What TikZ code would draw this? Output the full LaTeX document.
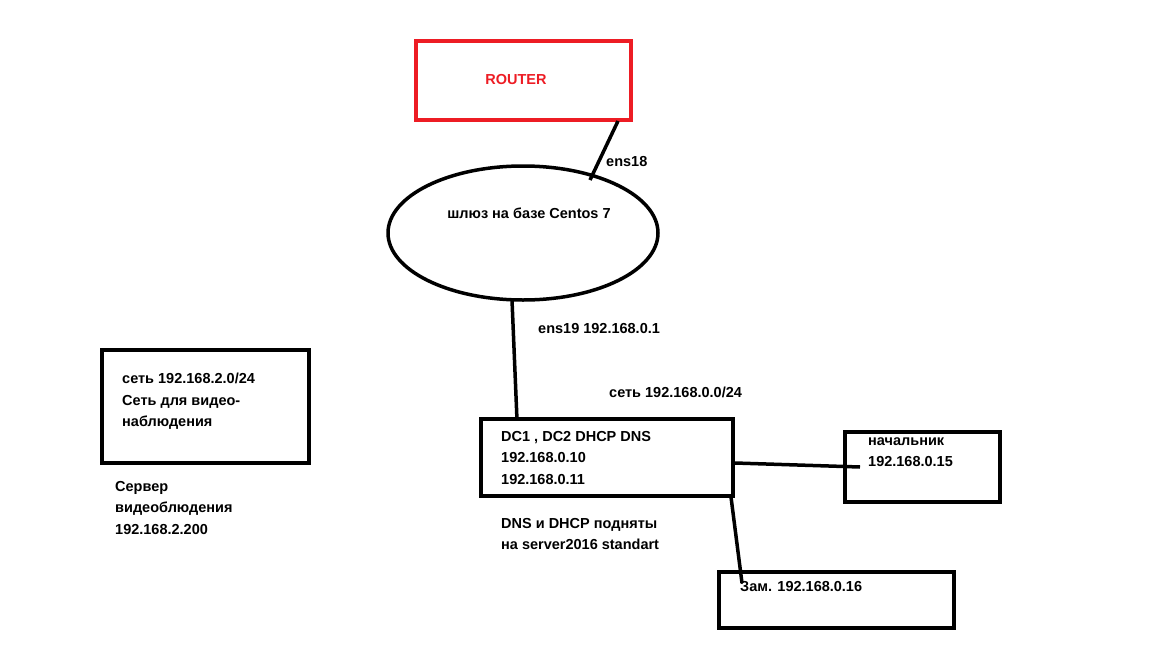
\documentclass[tikz,border=0pt]{standalone}
\usepackage{fontspec}
\setmainfont{Liberation Sans}
\usetikzlibrary{shapes.geometric}
\definecolor{rred}{RGB}{237,28,36}
\begin{document}
\begin{tikzpicture}[x=1pt,y=-1pt,
  box/.style={draw,line width=3.5pt,inner sep=0pt},
  lbl/.style={anchor=west,font=\bfseries\fontsize{14.5}{21.5}\selectfont,align=left,inner sep=0pt},
  conn/.style={line width=3.5pt}]
\useasboundingbox (0,0) rectangle (1152,648);
\draw[box,draw=rred] (416,41) rectangle (631,120);
\node[lbl,text=rred,anchor=center] (router) at (516,80) {ROUTER};
\coordinate (rb) at (618,121);
\node[draw,ellipse,line width=3.5pt,minimum width=270pt,minimum height=134pt] (gw) at (523,233) {};
\node[lbl,anchor=center] (gwt) at (529,213) {шлюз на базе Centos 7};
\coordinate (gt) at (590,180);
\draw[conn] (rb) -- (gt);
\node[lbl] (e18) at (606,162) {ens18};
\coordinate (gb) at (512,300);
\coordinate (dct) at (517,420);
\draw[conn] (gb) -- (dct);
\node[lbl] (e19) at (538,329) {ens19 192.168.0.1};
\draw[box] (481,419) rectangle (733,496);
\node[lbl,anchor=north west] (dc) at (501,431) {DC1 , DC2 DHCP DNS\\192.168.0.10\\192.168.0.11};
\node[lbl] (net0) at (609,392) {сеть 192.168.0.0/24};
\draw[box] (845,432) rectangle (1000,502);
\node[lbl,anchor=north west] (boss) at (868,437) {начальник\\192.168.0.15};
\coordinate (dcr) at (735,463);
\coordinate (bl) at (860,467);
\draw[conn] (dcr) -- (bl);
\draw[box] (719,572) rectangle (954,628);
\node[lbl] (zam) at (740,587) {Зам. 192.168.0.16};
\coordinate (dcb) at (731,497);
\coordinate (zt) at (742,583);
\draw[conn] (dcb) -- (zt);
\node[lbl,anchor=north west] (dns) at (501,518) {DNS и DHCP подняты\\на server2016 standart};
\draw[box] (102,350) rectangle (309,463);
\node[lbl,anchor=north west] (v) at (122,373) {сеть 192.168.2.0/24\\Сеть для видео-\\наблюдения};
\node[lbl,anchor=north west] (srv) at (115,481) {Сервер\\видеоблюдения\\192.168.2.200};
\end{tikzpicture}
\end{document}
